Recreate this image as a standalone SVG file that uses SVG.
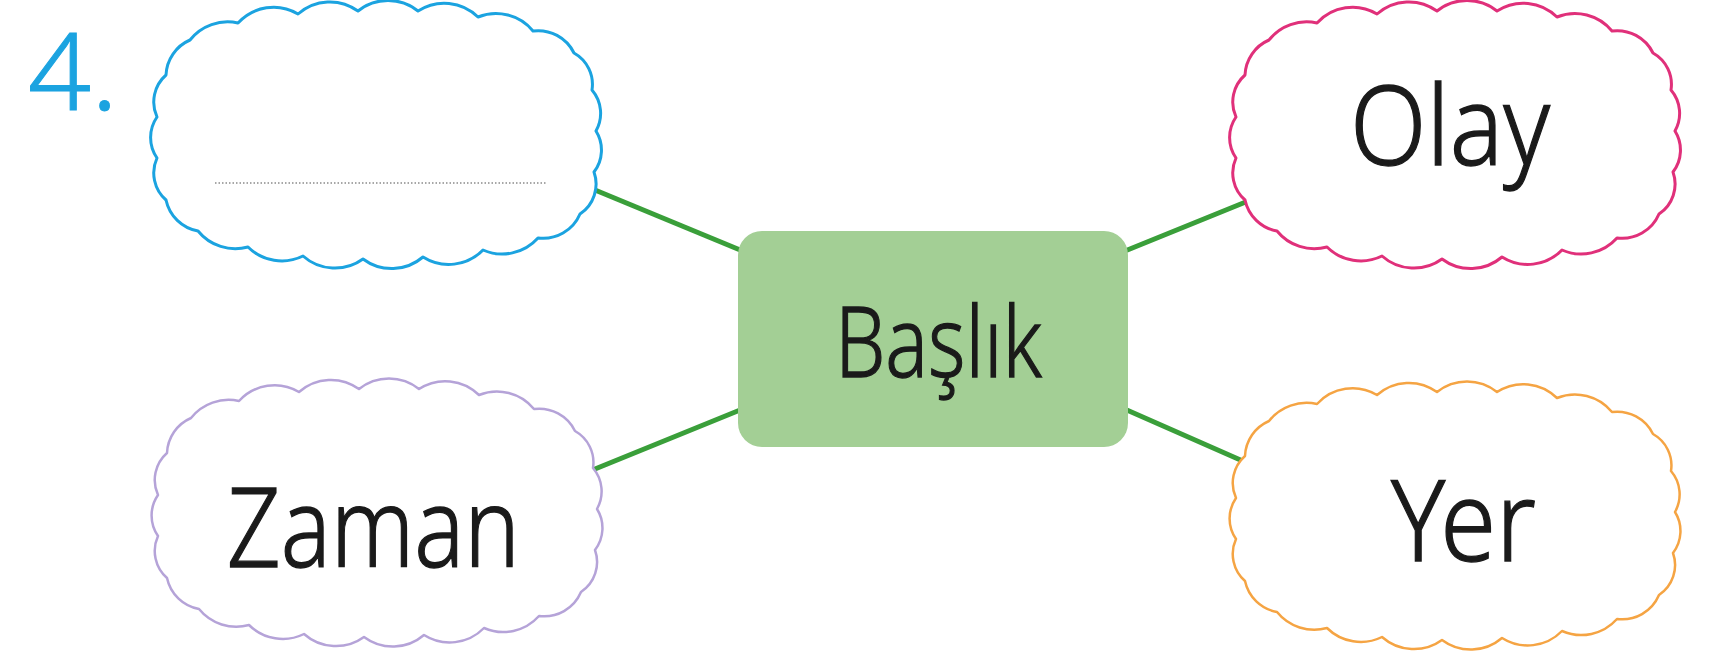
<svg xmlns="http://www.w3.org/2000/svg" xmlns:xlink="http://www.w3.org/1999/xlink" width="1729" height="661" viewBox="0 0 1729 661">
<style>
.cloud{fill:#fff;stroke-width:3;stroke-linejoin:round}
.blue{stroke:#1ba3e0}
.pink{stroke:#e0307a}
.purple{stroke:#b5a3d8;stroke-width:2.5}
.orange{stroke:#f5a443;stroke-width:2.5}
.conn{stroke:#3a9f3a;stroke-width:5;stroke-linecap:round;fill:none}
.lbl{font-family:"Noto Sans","Liberation Sans",sans-serif;font-weight:300;fill:#1a1a1a;stroke:#1a1a1a;stroke-width:1.3}
</style>
<defs>
<path id="cloud" d="M -188,-95 A 48 48 0 0 1 -140,-112 A 48 48 0 0 1 -80,-121 A 48 48 0 0 1 -20,-124 A 48 48 0 0 1 40,-124 A 48 48 0 0 1 100,-118 A 48 48 0 0 1 155,-104 A 40 40 0 0 1 196,-82 A 36 36 0 0 1 214,-45 A 36 36 0 0 1 218,-4 A 36 36 0 0 1 216,37 A 36 36 0 0 1 202,79 A 40 40 0 0 1 160,103 A 48 48 0 0 1 105,115 A 48 48 0 0 1 45,122 A 48 48 0 0 1 -15,124 A 48 48 0 0 1 -75,121 A 48 48 0 0 1 -130,112 A 48 48 0 0 1 -180,96 A 40 40 0 0 1 -212,65 A 36 36 0 0 1 -221,23 A 36 36 0 0 1 -221,-18 A 36 36 0 0 1 -212,-60 A 40 40 0 0 1 -188,-95 Z"/>
</defs>
<rect width="1729" height="661" fill="#fff"/>
<g id="connectors">
<line class="conn" x1="595" y1="190" x2="745" y2="252"/>
<line class="conn" x1="595" y1="469" x2="745" y2="408"/>
<line class="conn" x1="1120" y1="253" x2="1258" y2="197"/>
<line class="conn" x1="1120" y1="407" x2="1245" y2="462"/>
</g>
<g id="number">
<text x="28" y="110" font-family="Noto Sans, Liberation Sans, sans-serif" font-weight="300" font-size="106" fill="#1ba3e0" stroke="#1ba3e0" stroke-width="1" textLength="90" lengthAdjust="spacingAndGlyphs">4.</text>
</g>
<g id="node-blank">
<use xlink:href="#cloud" href="#cloud" class="cloud blue" transform="translate(378,135)"/>
<line x1="215" y1="183" x2="547" y2="183" stroke="#8a8a8a" stroke-width="1.5" stroke-dasharray="1.5 2"/>
</g>
<g id="node-olay">
<use xlink:href="#cloud" href="#cloud" class="cloud pink" transform="translate(1457,135)"/>
<text class="lbl" x="1350" y="165" font-size="110" textLength="200" lengthAdjust="spacingAndGlyphs">Olay</text>
</g>
<g id="node-baslik">
<rect x="738" y="231" width="390" height="216" rx="24" fill="#a3cf95"/>
<text class="lbl" x="835" y="377" font-size="98" textLength="207" lengthAdjust="spacingAndGlyphs">Başlık</text>
</g>
<g id="node-zaman">
<use xlink:href="#cloud" href="#cloud" class="cloud purple" transform="translate(379,513)"/>
<text class="lbl" x="227" y="567" font-size="110" textLength="293" lengthAdjust="spacingAndGlyphs">Zaman</text>
</g>
<g id="node-yer">
<use xlink:href="#cloud" href="#cloud" class="cloud orange" transform="translate(1457,516)"/>
<text class="lbl" x="1391" y="561" font-size="112" textLength="145" lengthAdjust="spacingAndGlyphs">Yer</text>
</g>
</svg>
